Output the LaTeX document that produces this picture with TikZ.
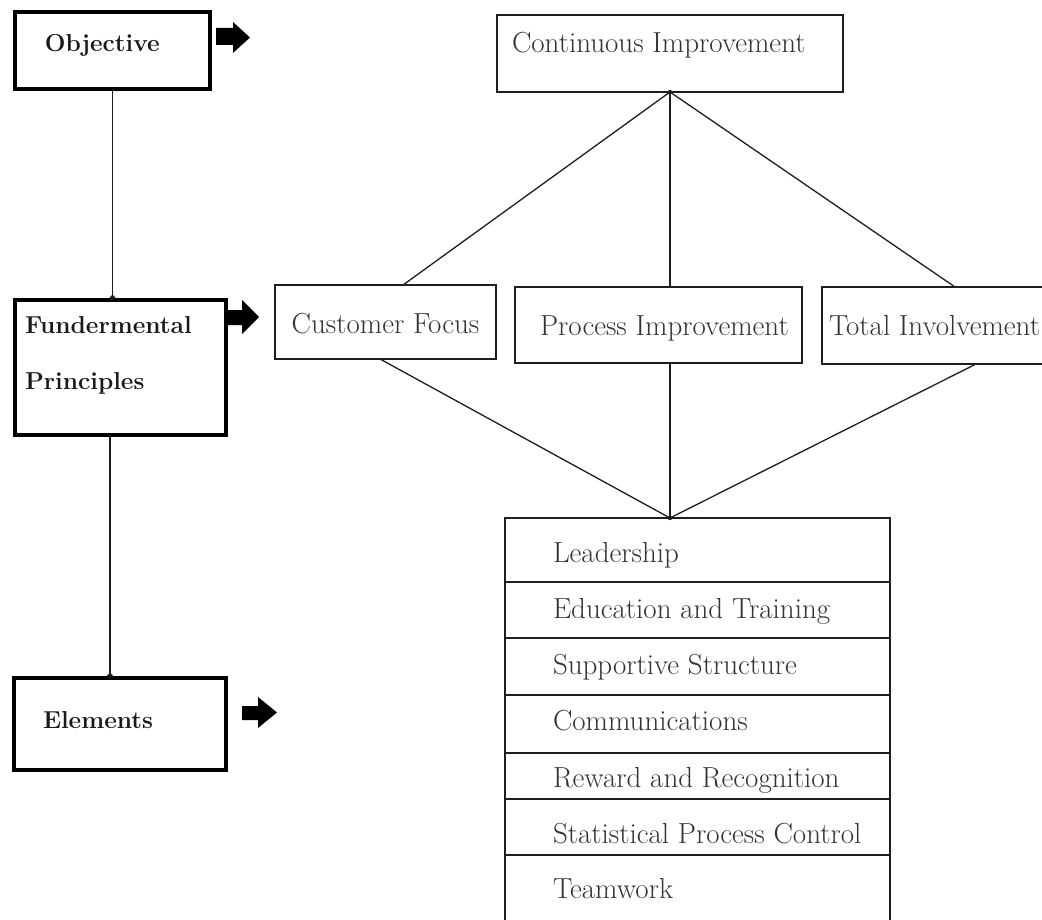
\documentclass[tikz,border=0pt]{standalone}
\usepackage{fontspec}
\usetikzlibrary{calc,arrows.meta}
\definecolor{ink}{HTML}{1E1E1E}
\definecolor{txt}{HTML}{333333}
\begin{document}
\begin{tikzpicture}[x=1pt,y=-1pt,
  every node/.style={outer sep=0pt, inner sep=0pt},
  leftbox/.style={draw=black, line width=4.5pt, anchor=north west,
    font=\fontsize{24.5pt}{28pt}\selectfont\bfseries, text=black!90},
  rbox/.style={draw=ink, line width=1.4pt, anchor=north west,
    font=\fontsize{29pt}{34pt}\selectfont, text=txt},
  link/.style={draw=ink, line width=1.3pt},
  blockarrow/.style={fill=black},
]
\useasboundingbox (0,0) rectangle (1042,920);
\clip (0,0) rectangle (1042,920);
\fill[white] (0,0) rectangle (1042,920);

% left column
\node[leftbox, text height=40pt, text depth=37pt] (obj) at (15,12)
  {\makebox[195pt][l]{\hspace{30pt}Objective}};
\node[leftbox, text height=33pt, text depth=102pt] (fund) at (15,300)
  {\makebox[211pt][l]{\hspace{10pt}\begin{tabular}[t]{@{}l@{}}Fundermental\\[29pt]Principles\end{tabular}}};
\node[leftbox, text height=50pt, text depth=42pt] (elem) at (14,678)
  {\makebox[212pt][l]{\hspace{29pt}Elements}};

\draw[link, -{Circle[length=5pt]}] (obj.south) -- (obj.south |- fund.north);
\coordinate (fs) at ($(fund.south west)+(95,0)$);
\draw[link, -{Circle[length=5pt]}] (fs) -- (fs |- elem.north);

% block arrows
\fill[blockarrow] (216,28) -- (233,28) -- (233,22) -- (250,37.5) -- (233,53) -- (233,45) -- (216,45) -- cycle;
\fill[blockarrow] (228,310) -- (242,310) -- (242,300) -- (259,317) -- (242,334) -- (242,325) -- (228,325) -- cycle;
\fill[blockarrow] (242,706) -- (258,706) -- (258,697) -- (277,712.5) -- (258,728) -- (258,720) -- (242,720) -- cycle;

% right side
\node[rbox, text height=38pt, text depth=39pt] (cont) at (497,15)
  {\makebox[346pt][l]{\hspace{15pt}Continuous Improvement}};
\node[rbox, text height=48pt, text depth=26pt] (cust) at (275,285)
  {\makebox[221pt][c]{Customer Focus}};
\node[rbox, text height=48pt, text depth=28pt] (proc) at (515,287)
  {\makebox[287pt][l]{\hspace{25pt}Process Improvement}};
\node[rbox, text height=48pt, text depth=29pt] (tot) at (822,287)
  {\makebox[240pt][l]{\hspace{7pt}Total Involvement}};

\node[rbox, text height=44pt, text depth=20pt] (r1) at (505,518)
  {\makebox[385pt][l]{\hspace{48pt}Leadership}};
\node[rbox, text height=36pt, text depth=20pt] (r2) at (505,582)
  {\makebox[385pt][l]{\hspace{48pt}Education and Training}};
\node[rbox, text height=36pt, text depth=21pt] (r3) at (505,638)
  {\makebox[385pt][l]{\hspace{48pt}Supportive Structure}};
\node[rbox, text height=35pt, text depth=23pt] (r4) at (505,695)
  {\makebox[385pt][l]{\hspace{48pt}Communications}};
\node[rbox, text height=34pt, text depth=12pt] (r5) at (505,753)
  {\makebox[385pt][l]{\hspace{48pt}Reward and Recognition}};
\node[rbox, text height=44pt, text depth=12pt] (r6) at (505,799)
  {\makebox[385pt][l]{\hspace{48pt}Statistical Process Control}};
\node[rbox, text height=43pt, text depth=37pt] (r7) at (505,855)
  {\makebox[385pt][l]{\hspace{48pt}Teamwork}};

% connectors
\coordinate (apex) at (cont.south);
\coordinate (hub) at (apex |- r1.north);
\draw[link] (apex) -- ($(cust.north west)+(128,0)$);
\draw[link] (apex) -- (apex |- proc.north);
\draw[link] (apex) -- ($(tot.north west)+(133,0)$);
\draw[link] ($(cust.south west)+(105,0)$) -- (hub);
\draw[link] (apex |- proc.south) -- (hub);
\draw[link] ($(tot.south west)+(154,0)$) -- (hub);
\fill[ink] (apex) circle (2.2pt);
\fill[ink] (hub) circle (2.2pt);
\end{tikzpicture}
\end{document}
